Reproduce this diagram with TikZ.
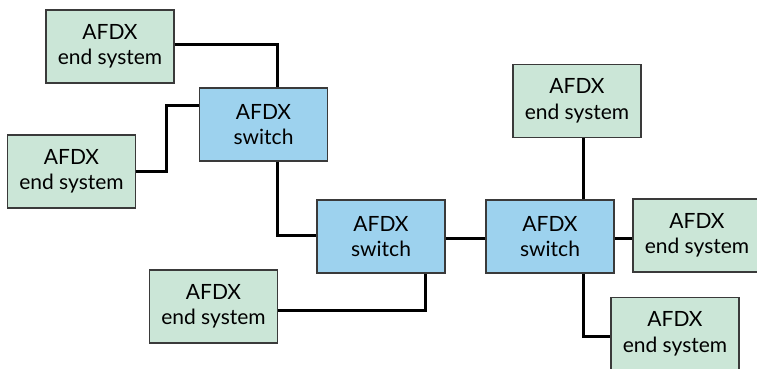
\documentclass[tikz,border=0pt]{standalone}
\usepackage{fontspec}
\setmainfont{Lato}
\definecolor{esfill}{HTML}{CBE6D7}
\definecolor{swfill}{HTML}{9DD2EE}
\definecolor{boxline}{HTML}{3A3A3A}
\begin{document}
\begin{tikzpicture}[x=1pt,y=-1pt,
  box/.style={draw=boxline,line width=1.3pt,minimum width=128pt,minimum height=73pt,
    inner sep=0pt,align=center,font=\fontsize{21}{25.5}\selectfont},
  es/.style={box,fill=esfill},
  sw/.style={box,fill=swfill},
  link/.style={line width=3pt,black}]
\useasboundingbox (0,0) rectangle (757,369);
\clip (0,0) rectangle (757,369);
\node[es] (ES1) at (110,46.5) {AFDX\\end system};
\node[es] (ES2) at (71.5,171.5) {AFDX\\end system};
\node[sw] (SW1) at (263.5,124.5) {AFDX\\switch};
\node[sw] (SW2) at (381,236.5) {AFDX\\switch};
\node[es] (ES3) at (213.5,306.5) {AFDX\\end system};
\node[es] (ES4) at (577,101) {AFDX\\end system};
\node[sw] (SW3) at (550,236.5) {AFDX\\switch};
\node[es] (ES5) at (697,235.5) {AFDX\\end system};
\node[es] (ES6) at (675,334) {AFDX\\end system};
\draw[link] ([yshift=1.5pt]ES1.east) -| ([xshift=13.5pt]SW1.north);
\draw[link] (ES2.east) -- ++(30,0) |- ([yshift=19.5pt]SW1.west);
\draw[link] ([xshift=13.5pt]SW1.south) |- ([yshift=1.5pt]SW2.west);
\draw[link] ([yshift=-3.5pt]ES3.east) -| ([xshift=44pt]SW2.south);
\draw[link] ([yshift=-1.5pt]SW2.east) -- ([yshift=-1.5pt]SW3.west);
\draw[link] ([xshift=6pt]ES4.south) -- ([xshift=33pt]SW3.north);
\draw[link] ([yshift=-1.5pt]SW3.east) -- ([yshift=-1.5pt]SW3.east -| ES5.west);
\draw[link] ([xshift=33pt]SW3.south) |- ([yshift=-2pt]ES6.west);
\end{tikzpicture}
\end{document}
